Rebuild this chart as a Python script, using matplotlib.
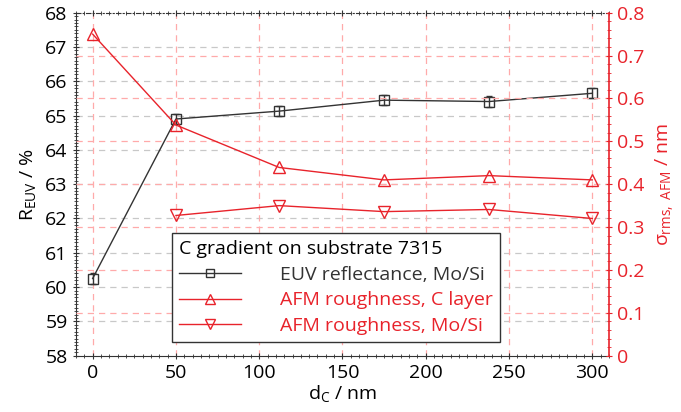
import numpy as np
from matplotlib import pyplot as plt
from matplotlib.lines import Line2D
from matplotlib.ticker import MultipleLocator

plt.rcParams['font.family'] = ['Open Sans', 'DejaVu Sans']
plt.rcParams['font.size'] = 14
plt.rcParams['mathtext.fontset'] = 'custom'
plt.rcParams['mathtext.rm'] = 'Open Sans'
plt.rcParams['mathtext.it'] = 'Open Sans'

red = '#e8232b'
black = '#333333'

# thickness of C layer (nm)
d_c = np.array([0, 50, 112, 175, 238, 300])
# EUV reflectance (%)
refl = np.array([60.25, 64.9, 65.13, 65.45, 65.41, 65.65])
refl_err = np.array([0.15, 0.15, 0.15, 0.15, 0.15, 0.15])
# AFM roughness (nm)
rough_c = np.array([0.75, 0.538, 0.439, 0.41, 0.42, 0.41])
d_mosi = np.array([50, 112, 175, 238, 300])
rough_mosi = np.array([0.327, 0.35, 0.336, 0.341, 0.32])

fig = plt.figure(figsize=(6.81, 4.12), dpi=100)
ax = fig.add_axes([0.1116, 0.1367, 0.7826, 0.8325])
ax2 = ax.twinx()

# grids
for y in np.arange(59, 68):
    ax.axhline(y, color='#c8c8c8', ls=(0, (5, 4)), lw=0.9, zorder=0)
for y in np.arange(0.1, 0.8, 0.1):
    ax2.axhline(y, color='#ffaaaa', ls=(0, (5, 4)), lw=0.9, zorder=0)
for x in np.arange(0, 301, 50):
    ax.axvline(x, color='#ffaaaa', ls=(0, (5, 4)), lw=0.9, zorder=0)

ax.errorbar(d_c, refl, yerr=refl_err, color=black, marker='s', mfc='none',
            ms=7, lw=1, capsize=2.5, elinewidth=1, zorder=3)
ax2.plot(d_c, rough_c, color=red, marker='^', mfc='none', ms=8, lw=1)
ax2.plot(d_mosi, rough_mosi, color=red, marker='v', mfc='none', ms=8, lw=1)

ax.set_xlim(-10, 310)
ax.set_ylim(58, 68)
ax2.set_ylim(0, 0.8)
ax.xaxis.set_major_locator(MultipleLocator(50))
ax.xaxis.set_minor_locator(MultipleLocator(5))
ax.yaxis.set_major_locator(MultipleLocator(1))
ax.yaxis.set_minor_locator(MultipleLocator(0.1))
ax2.yaxis.set_minor_locator(MultipleLocator(0.02))

ax.tick_params(which='both', direction='inout', top=True, color=black)
ax.tick_params(which='major', length=5)
ax.tick_params(which='minor', length=3)
ax2.tick_params(which='both', direction='inout', colors=red)
ax2.tick_params(which='major', length=5)
ax2.tick_params(which='minor', length=3)
ax2.set_yticks(np.arange(0, 0.81, 0.1))
ax2.set_yticklabels(['0', '0.1', '0.2', '0.3', '0.4', '0.5', '0.6', '0.7', '0.8'])

for s in ['left', 'bottom', 'top']:
    ax2.spines[s].set_visible(False)
ax.spines['right'].set_visible(False)
ax2.spines['right'].set_color(red)
ax2.spines['right'].set_linewidth(1.2)
ax.spines['left'].set_color(black)
ax.spines['bottom'].set_color(black)
ax.spines['top'].set_color(black)
ax.spines['top'].set_linestyle((0, (4, 2, 1, 2)))

ax.set_xlabel('d$_\\mathrm{C}$ / nm', labelpad=1)
ax.set_ylabel('R$_\\mathrm{EUV}$ / %', labelpad=5)
ax2.set_ylabel('$\\sigma_\\mathrm{rms,\\ AFM}$ / nm', color=red, labelpad=6)

handles = [
    Line2D([], [], color=black, marker='s', mfc='none', ms=6, lw=1,
           label='EUV reflectance, Mo/Si'),
    Line2D([], [], color=red, marker='^', mfc='none', ms=7, lw=1,
           label='AFM roughness, C layer'),
    Line2D([], [], color=red, marker='v', mfc='none', ms=7, lw=1,
           label='AFM roughness, Mo/Si'),
]
leg = ax2.legend(handles=handles, title='C gradient on substrate 7315',
                 loc='lower left', bbox_to_anchor=(0.18, 0.04), fancybox=False,
                 edgecolor=black, framealpha=1, handlelength=3.2,
                 handletextpad=2.0, borderpad=0.35, labelspacing=0.4,
                 borderaxespad=0, fontsize=14, title_fontsize=14)
leg._legend_box.align = 'left'
leg.get_frame().set_linewidth(1)
for txt, c in zip(leg.get_texts(), [black, red, red]):
    txt.set_color(c)

fig.savefig('out.png', dpi=100)
